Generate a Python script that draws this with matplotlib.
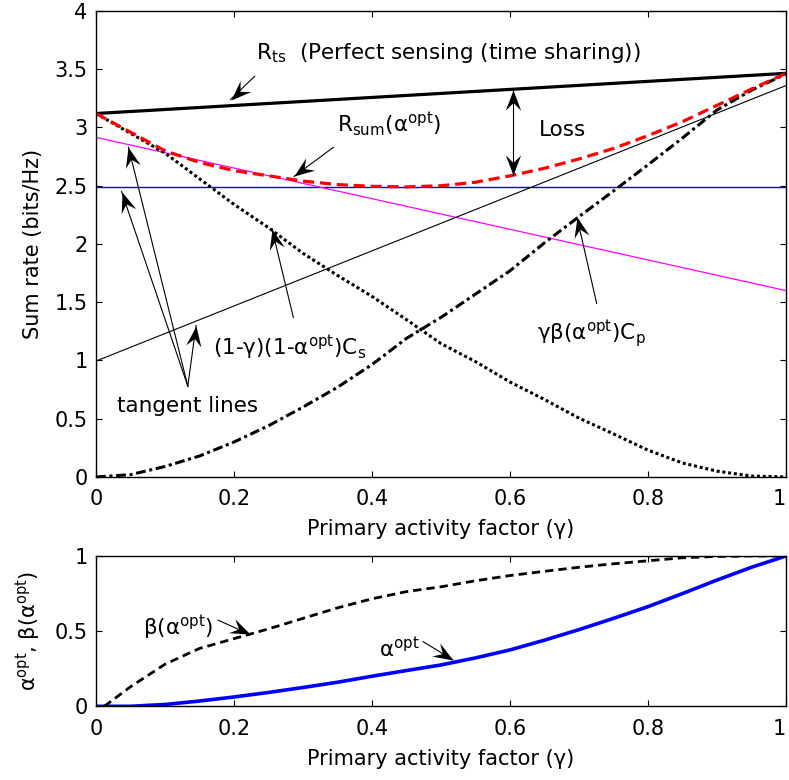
import matplotlib
matplotlib.use("Agg")
import matplotlib.pyplot as plt
import numpy as np
from matplotlib.markers import MarkerStyle
from matplotlib.path import Path
from matplotlib.transforms import Affine2D

plt.rcParams['font.family'] = ['DejaVu Sans']
plt.rcParams['mathtext.fontset'] = 'dejavusans'
plt.rcParams['font.size'] = 15

# primary activity factor grid
gamma = [0.0, 0.05, 0.1, 0.15, 0.2, 0.25, 0.3, 0.35, 0.4, 0.45, 0.5,
         0.55, 0.6, 0.65, 0.7, 0.75, 0.8, 0.85, 0.9, 0.95, 1.0]

# sum rate curves (bits/Hz)
r_sum = [3.12, 2.96, 2.80, 2.70, 2.63, 2.585, 2.54, 2.51, 2.495, 2.49, 2.50,
         2.53, 2.585, 2.65, 2.73, 2.82, 2.93, 3.05, 3.19, 3.33, 3.465]
sec_part = [3.12, 2.95, 2.78, 2.56, 2.34, 2.14, 1.92, 1.73, 1.55, 1.35, 1.145,
            0.99, 0.815, 0.665, 0.505, 0.37, 0.23, 0.12, 0.05, 0.008, 0.0]
pri_part = [0.0, 0.02, 0.09, 0.18, 0.30, 0.44, 0.60, 0.77, 0.965, 1.19, 1.37,
            1.57, 1.77, 2.01, 2.235, 2.455, 2.68, 2.91, 3.15, 3.32, 3.46]

# straight lines: time sharing bound and the three tangents
line_x = [0.0, 1.0]
r_ts = [3.12, 3.465]
tan_flat = [2.49, 2.49]
tan_down = [2.915, 1.60]
tan_up = [0.995, 3.36]

# optimal alpha and beta(alpha)
alpha_opt = [0.0, 0.0, 0.012, 0.035, 0.062, 0.092, 0.125, 0.16, 0.20, 0.238, 0.275,
             0.322, 0.375, 0.44, 0.51, 0.585, 0.663, 0.75, 0.84, 0.925, 1.0]
beta_gamma = [0.012, 0.05, 0.1, 0.15, 0.2, 0.25, 0.3, 0.35, 0.4, 0.45, 0.5,
              0.55, 0.6, 0.65, 0.7, 0.75, 0.8, 0.85, 0.9, 0.95, 1.0]
beta_opt = [0.0, 0.13, 0.28, 0.385, 0.45, 0.515, 0.585, 0.655, 0.715, 0.763, 0.795,
            0.835, 0.87, 0.898, 0.925, 0.948, 0.968, 0.988, 0.997, 1.0, 1.0]

# concave arrow head pointing along +x, tip at the origin
HEAD = Path([(0, 0), (-1, 0.38), (-0.62, 0), (-1, -0.38), (0, 0)],
            [Path.MOVETO, Path.LINETO, Path.LINETO, Path.LINETO, Path.CLOSEPOLY])


def head(ax, tip, tail):
    p0 = ax.transData.transform(tail)
    p1 = ax.transData.transform(tip)
    ang = np.degrees(np.arctan2(p1[1] - p0[1], p1[0] - p0[0]))
    m = MarkerStyle(HEAD, transform=Affine2D().rotate_deg(ang))
    ax.plot([tip[0]], [tip[1]], marker=m, ms=29, color='k', mew=0, clip_on=False)


def arrow(ax, tip, tail, both=False):
    ax.plot([tail[0], tip[0]], [tail[1], tip[1]], color='k', lw=0.8)
    head(ax, tip, tail)
    if both:
        head(ax, tail, tip)


fig = plt.figure(figsize=(7.89, 7.8), dpi=100)
ax1 = fig.add_axes([0.1217, 0.3885, 0.8745, 0.5974])
ax2 = fig.add_axes([0.1217, 0.0945, 0.8745, 0.1927])

ax1.plot(line_x, r_ts, color='k', lw=2.3)
ax1.plot(line_x, tan_flat, color='#0000ff', lw=1.0)
ax1.plot(line_x, tan_down, color='#ff00ff', lw=0.9)
ax1.plot(line_x, tan_up, color='k', lw=0.8)
ax1.plot(gamma, sec_part, color='k', lw=2.2, linestyle=(0, (1, 0.9)))
ax1.plot(gamma, pri_part, color='k', lw=2.2, linestyle=(0, (3.2, 1.2, 1, 1.2)))
ax1.plot(gamma, r_sum, color='#ff0000', lw=2.3, linestyle=(0, (3.5, 1.8)))

ax2.plot(gamma, alpha_opt, color='#0000ff', lw=2.6)
ax2.plot(beta_gamma, beta_opt, color='k', lw=2.0, linestyle=(0, (3, 1.8)))

for ax in (ax1, ax2):
    ax.set_xlim(0, 1)
    ax.set_xticks([0, 0.2, 0.4, 0.6, 0.8, 1])
    ax.set_xticklabels(['0', '0.2', '0.4', '0.6', '0.8', '1'])
    ax.get_xticklabels()[-1].set_ha('right')
    ax.tick_params(direction='in', length=4, top=True, right=True, width=0.8)
    ax.tick_params(axis='x', pad=9)
    ax.tick_params(axis='y', pad=6)
    for s in ax.spines.values():
        s.set_linewidth(1.0)
    ax.set_xlabel('Primary activity factor (γ)', labelpad=7)

ax1.set_ylim(0, 4)
ax1.set_yticks([0, 0.5, 1, 1.5, 2, 2.5, 3, 3.5, 4])
ax1.set_yticklabels(['0', '0.5', '1', '1.5', '2', '2.5', '3', '3.5', '4'])
ax1.set_ylabel('Sum rate (bits/Hz)', labelpad=8)

ax2.set_ylim(0, 1)
ax2.set_yticks([0, 0.5, 1])
ax2.set_yticklabels(['0', '0.5', '1'])
ax2.set_ylabel('α$^{\\mathrm{opt}}$, β(α$^{\\mathrm{opt}}$)', labelpad=8)

fs = 15.5

# labels and arrows on the sum rate panel
ax1.text(0.232, 3.59, 'R$_{\\mathrm{ts}}$  (Perfect sensing (time sharing))',
         va='baseline', fontsize=fs)
arrow(ax1, (0.195, 3.24), (0.23, 3.44))

ax1.text(0.349, 2.96, 'R$_{\\mathrm{sum}}$(α$^{\\mathrm{opt}}$)', va='baseline', fontsize=fs)
arrow(ax1, (0.287, 2.58), (0.344, 2.83))

ax1.text(0.6425, 2.93, 'Loss', va='baseline', fontsize=fs)
arrow(ax1, (0.604, 2.59), (0.604, 3.32), both=True)

ax1.text(0.030, 0.56, 'tangent lines', va='baseline', fontsize=fs)
for tip in [(0.047, 2.83), (0.037, 2.45), (0.145, 1.30)]:
    arrow(ax1, tip, (0.133, 0.78))

ax1.text(0.17, 1.045, '(1-γ)(1-α$^{\\mathrm{opt}}$)C$_{\\mathrm{s}}$', va='baseline', fontsize=fs)
arrow(ax1, (0.255, 2.13), (0.286, 1.37))

ax1.text(0.6386, 1.174, 'γβ(α$^{\\mathrm{opt}}$)C$_{\\mathrm{p}}$', va='baseline', fontsize=fs)
arrow(ax1, (0.697, 2.23), (0.7256, 1.49))

# labels on the alpha/beta panel
ax2.text(0.0686, 0.473, 'β(α$^{\\mathrm{opt}}$)', va='baseline', fontsize=fs)
arrow(ax2, (0.223, 0.478), (0.177, 0.573))

ax2.text(0.41, 0.33, 'α$^{\\mathrm{opt}}$', va='baseline', fontsize=fs)
arrow(ax2, (0.517, 0.31), (0.474, 0.43))

fig.savefig('out.png', dpi=100)
